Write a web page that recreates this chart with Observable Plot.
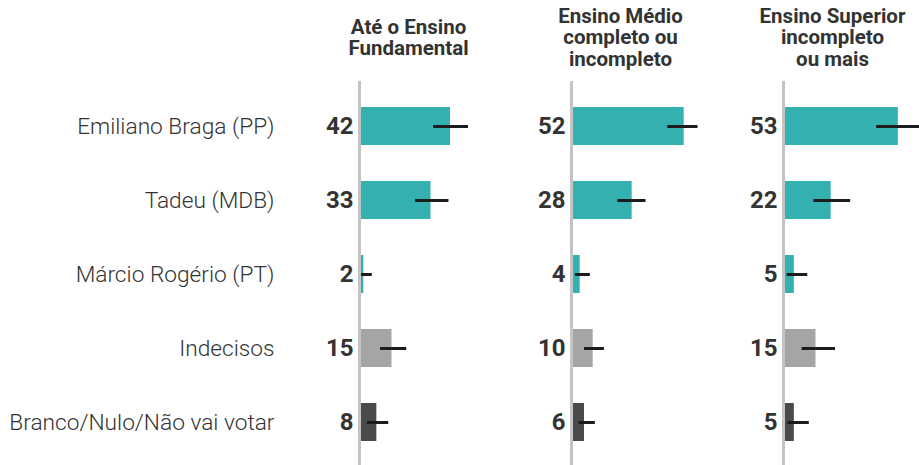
<!DOCTYPE html>
<html>
<head>
<meta charset="utf-8">
<script src="https://cdn.jsdelivr.net/npm/d3@7"></script>
<script src="https://cdn.jsdelivr.net/npm/@observablehq/plot@0.6"></script>
<style>
  html, body { margin: 0; padding: 0; background: #ffffff; }
  #chart { width: 919px; height: 465px; }
</style>
</head>
<body>
<div id="chart"></div>
<script>
const candidates = [
  "Emiliano Braga (PP)",
  "Tadeu (MDB)",
  "Márcio Rogério (PT)",
  "Indecisos",
  "Branco/Nulo/Não vai votar"
];
const groups = [
  "Até o Ensino\nFundamental",
  "Ensino Médio\ncompleto ou\nincompleto",
  "Ensino Superior\nincompleto\nou mais"
];
const values = [
  [42, 33, 2, 15, 8],
  [52, 28, 4, 10, 6],
  [53, 22, 5, 15, 5]
];
// lower and upper ends of the error bars (percentage points)
const lows = [
  [34.2, 25.9, 0, 9.7, 3.7],
  [44.4, 21.4, 1.8, 6.0, 3.5],
  [43.0, 14.0, 1.7, 8.6, 2.0]
];
const highs = [
  [50.3, 41.3, 5.9, 21.8, 13.5],
  [58.4, 34.4, 8.7, 15.2, 11.0],
  [62.8, 31.0, 11.2, 24.0, 11.9]
];

const data = [];
groups.forEach((g, i) => candidates.forEach((c, j) => {
  data.push({group: g, cand: c, value: values[i][j], low: lows[i][j], high: highs[i][j]});
}));

const barColors = ["#35b0b0", "#35b0b0", "#35b0b0", "#a5a5a5", "#4a4a4a"];

const chart = Plot.plot({
  width: 919,
  height: 465,
  marginLeft: 358,
  marginRight: 6,
  marginTop: 81,
  marginBottom: 0,
  style: {fontFamily: "Roboto, 'Noto Sans', sans-serif", color: "#333333", background: "#ffffff"},
  fx: {domain: groups, paddingInner: 0.388, paddingOuter: 0, axis: null},
  x: {domain: [0, 60], axis: null},
  y: {domain: candidates, paddingInner: 0.486, paddingOuter: 0.243, insetTop: 8, insetBottom: 6, axis: null},
  color: {domain: candidates, range: barColors},
  marks: [
    Plot.barX(data, {fx: "group", y: "cand", x: "value", fill: "cand"}),
    Plot.ruleY(data, {fx: "group", y: "cand", x1: "low", x2: "high", stroke: "#1c1c1c", strokeWidth: 3}),
    Plot.ruleX([0], {stroke: "#c4c4c4", strokeWidth: 3}),
    Plot.text(data, {fx: "group", y: "cand", text: "value", frameAnchor: "left", dx: -6, textAnchor: "end",
      fontSize: 24, fontWeight: "bold", fill: "#333333"}),
    Plot.axisY({anchor: "left", tickSize: 0, tickPadding: 85, fontSize: 22.7, fontWeight: 300, fill: "#333333", label: null}),
    Plot.text(groups, {fx: d => d, text: d => d, frameAnchor: "top", dy: -44, dx: -16, lineAnchor: "middle",
      lineHeight: 1.06, fontSize: 20.5, fontWeight: "bold", fill: "#333333"})
  ]
});
document.getElementById("chart").appendChild(chart);
</script>
</body>
</html>
